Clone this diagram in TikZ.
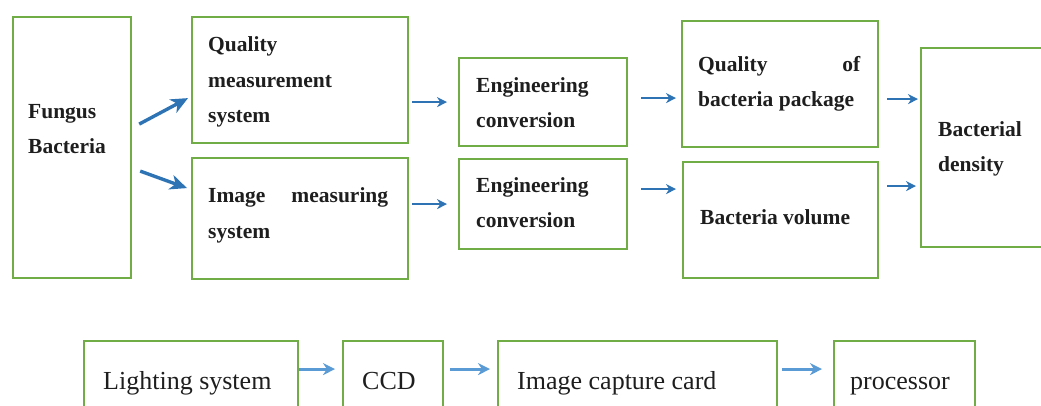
\documentclass[tikz,border=0pt]{standalone}
\usepackage{fontspec}
\setmainfont{Liberation Serif}
\usetikzlibrary{arrows.meta}
\definecolor{boxgreen}{RGB}{112,173,71}
\definecolor{arrblue}{RGB}{46,116,181}
\definecolor{arrlight}{RGB}{91,155,213}
\definecolor{txtgray}{RGB}{30,30,30}
\tikzset{
  box/.style={draw=boxgreen, line width=2.2pt, rectangle, inner sep=0pt, anchor=north west},
  toptxt/.style={anchor=base west, inner sep=0pt, align=left, text=txtgray,
    font=\fontsize{21.5}{35.5}\selectfont\bfseries},
  bottxt/.style={anchor=base west, inner sep=0pt, text=txtgray,
    font=\fontsize{26}{30}\selectfont},
  arr/.style={draw=arrblue, line width=2pt, -{Stealth[length=10pt,width=10pt]}},
  bigarr/.style={draw=arrblue, line width=3.4pt, -{Stealth[length=17pt,width=15pt,inset=5pt]}},
  botarr/.style={draw=arrlight, line width=3pt, -{Stealth[length=12pt,width=12pt]}}
}
\begin{document}
\begin{tikzpicture}[x=1pt,y=-1pt]
\useasboundingbox (0,0) rectangle (1041,406);
\clip (0,0) rectangle (1041,406);
% top row boxes
\node[box, minimum width=118pt, minimum height=261pt] (fb) at (12,16) {};
\node[box, minimum width=216pt, minimum height=126pt] (qms) at (191,16) {};
\node[box, minimum width=216pt, minimum height=121pt] (ims) at (191,157) {};
\node[box, minimum width=168pt, minimum height=88pt] (et) at (458,57) {};
\node[box, minimum width=168pt, minimum height=90pt] (eb) at (458,158) {};
\node[box, minimum width=196pt, minimum height=126pt] (qpkg) at (681,20) {};
\node[box, minimum width=195pt, minimum height=116pt] (vol) at (682,161) {};
\node[box, minimum width=140pt, minimum height=199pt] (dens) at (920,47) {};
% top row texts (anchored at the baseline of the last line)
\node[toptxt] (fbt) at (28,154) {Fungus\\Bacteria};
\node[toptxt] (qmst) at (208,123) {Quality\\measurement\\system};
\node[toptxt] (imst) at (208,238) {\makebox[180pt][s]{Image measuring}\\system};
\node[toptxt] (ett) at (476,128) {Engineering\\conversion};
\node[toptxt] (ebt) at (476,228) {Engineering\\conversion};
\node[toptxt] (qpkgt) at (698,107) {\makebox[162pt][s]{Quality of}\\bacteria package};
\node[toptxt] (volt) at (700,225) {Bacteria volume};
\node[toptxt] (denst) at (938,172) {Bacterial\\density};
% bottom row boxes
\node[box, minimum width=214pt, minimum height=80pt] (light) at (83,340) {};
\node[box, minimum width=100pt, minimum height=80pt] (ccd) at (342,340) {};
\node[box, minimum width=279pt, minimum height=80pt] (icc) at (497,340) {};
\node[box, minimum width=141pt, minimum height=80pt] (proc) at (833,340) {};
\node[bottxt] (lightt) at (103,389) {Lighting system};
\node[bottxt] (ccdt) at (362,389) {CCD};
\node[bottxt] (icct) at (517,389) {Image capture card};
\node[bottxt] (proct) at (850,389) {processor};
% top arrows
\draw[bigarr] ([xshift=7pt,yshift=23.5pt]fb.east) -- ([xshift=-3pt,yshift=-18pt]qms.west);
\draw[bigarr] ([xshift=8pt,yshift=-23.5pt]fb.east) -- ([xshift=-4pt,yshift=30.5pt]ims.west);
\draw[arr, shorten <=3pt, shorten >=11pt] (qms.east |- et.west) -- (et.west);
\draw[arr, shorten <=3pt, shorten >=11pt] (ims.east |- eb.west) -- (eb.west);
\draw[arr, shorten <=13pt, shorten >=5pt] ([yshift=4pt]et.east) -- ([yshift=4pt]et.east -| qpkg.west);
\draw[arr, shorten <=13pt, shorten >=6pt] ([yshift=15pt]eb.east) -- ([yshift=15pt]eb.east -| vol.west);
\draw[arr, shorten <=8pt, shorten >=2pt] ([yshift=-15pt]qpkg.east) -- ([yshift=-15pt]qpkg.east -| dens.west);
\draw[arr, shorten <=8pt, shorten >=4pt] ([yshift=34pt]vol.east) -- ([yshift=34pt]vol.east -| dens.west);
% bottom arrows
\draw[botarr, shorten <=0pt, shorten >=7pt] ([yshift=12pt]light.east) -- ([yshift=12pt]ccd.west);
\draw[botarr, shorten <=6pt, shorten >=7pt] ([yshift=12pt]ccd.east) -- ([yshift=12pt]icc.west);
\draw[botarr, shorten <=4pt, shorten >=11pt] ([yshift=12pt]icc.east) -- ([yshift=12pt]proc.west);
\end{tikzpicture}
\end{document}
